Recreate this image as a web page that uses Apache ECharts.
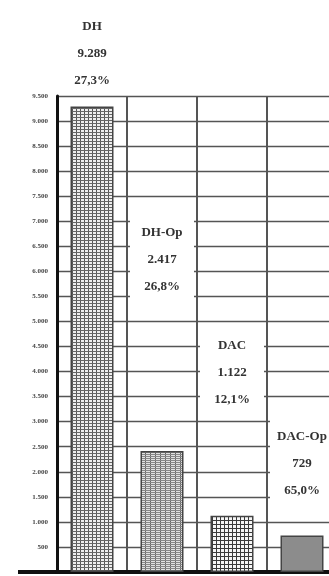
<!DOCTYPE html>
<html>
<head>
<meta charset="utf-8">
<script src="https://cdn.jsdelivr.net/npm/echarts@6/dist/echarts.min.js"></script>
<style>
  html, body { margin: 0; padding: 0; background: #fff; overflow: hidden; }
  /* the scan cuts the last column off, so the chart runs past the window */
  #chart { width: 337px; height: 576px; }
</style>
</head>
<body>
<div id="chart"></div>
<script>
// data
const categories = ['DH', 'DH-Op', 'DAC', 'DAC-Op'];
const values = [9289, 2417, 1122, 729];
const shares = ['27,3%', '26,8%', '12,1%', '65,0%'];
const yTicks = { min: 0, max: 9500, step: 500 };

// gap between bar top and its label box (style only)
const labelGaps = [12, 147, 99, 27];

function dots(n) {
  return String(n).replace(/\B(?=(\d{3})+(?!\d))/g, '.');
}

// hatch fills like the scanned bars
function hatch(w, h, bg, vLine, hLine) {
  var c = document.createElement('canvas');
  c.width = w; c.height = h;
  var ctx = c.getContext('2d');
  ctx.fillStyle = bg;
  ctx.fillRect(0, 0, w, h);
  if (vLine) { ctx.fillStyle = vLine; ctx.fillRect(0, 0, 1, h); }
  if (hLine) { ctx.fillStyle = hLine; ctx.fillRect(0, 0, w, 1); }
  return { image: c, repeat: 'repeat' };
}

const fills = [
  hatch(4, 3, '#eeeeee', '#555555', '#666666'),
  hatch(5, 2, '#e2e2e2', '#666666', '#888888'),
  hatch(4, 4, '#f6f6f6', '#3a3a3a', '#3a3a3a'),
  '#8c8c8c'
];

const chart = echarts.init(document.getElementById('chart'));

var option = {
  animation: false,
  grid: { left: 57, right: 0, top: 96, bottom: 4 },
  xAxis: {
    type: 'category',
    data: categories,
    axisLine: { lineStyle: { color: '#111', width: 4 } },
    axisTick: { show: false },
    axisLabel: { show: false },
    splitLine: { show: true, interval: 0, lineStyle: { color: '#555', width: 2 } }
  },
  yAxis: {
    type: 'value',
    min: yTicks.min,
    max: yTicks.max,
    interval: yTicks.step,
    axisLine: { show: true, lineStyle: { color: '#111', width: 3 } },
    axisTick: { show: false },
    axisLabel: {
      margin: 9,
      fontFamily: 'Liberation Serif',
      fontWeight: 'bold',
      fontSize: 7,
      color: '#444',
      formatter: v => v === 0 ? '' : dots(v)
    },
    splitLine: { lineStyle: { color: '#555', width: 1.3 } }
  },
  series: [{
    type: 'bar',
    barWidth: 43,
    data: values.map((v, i) => ({
      value: v,
      itemStyle: { color: fills[i], borderColor: '#444', borderWidth: 1.5 },
      // the first label sits above the frame, so it needs no bottom padding
      label: i === 0 ? { distance: labelGaps[i], padding: [4, 4, 0, 4] } : { distance: labelGaps[i] }
    })),
    label: {
      show: true,
      position: 'top',
      fontFamily: 'Liberation Serif',
      fontWeight: 'bold',
      fontSize: 13,
      lineHeight: 27,
      color: '#333',
      backgroundColor: '#fff',
      padding: [4, 4],
      width: 56,
      align: 'center',
      formatter: p => categories[p.dataIndex] + '\n' + dots(p.value) + '\n' + shares[p.dataIndex]
    }
  }]
};
chart.setOption(option);

// the bottom axis runs a little past the left of the y axis
var y0 = chart.convertToPixel({ yAxisIndex: 0 }, 0);
chart.setOption({
  graphic: [{
    type: 'line',
    shape: { x1: 18, y1: y0, x2: 57, y2: y0 },
    style: { stroke: '#111', lineWidth: 4 }
  }]
});
</script>
</body>
</html>
